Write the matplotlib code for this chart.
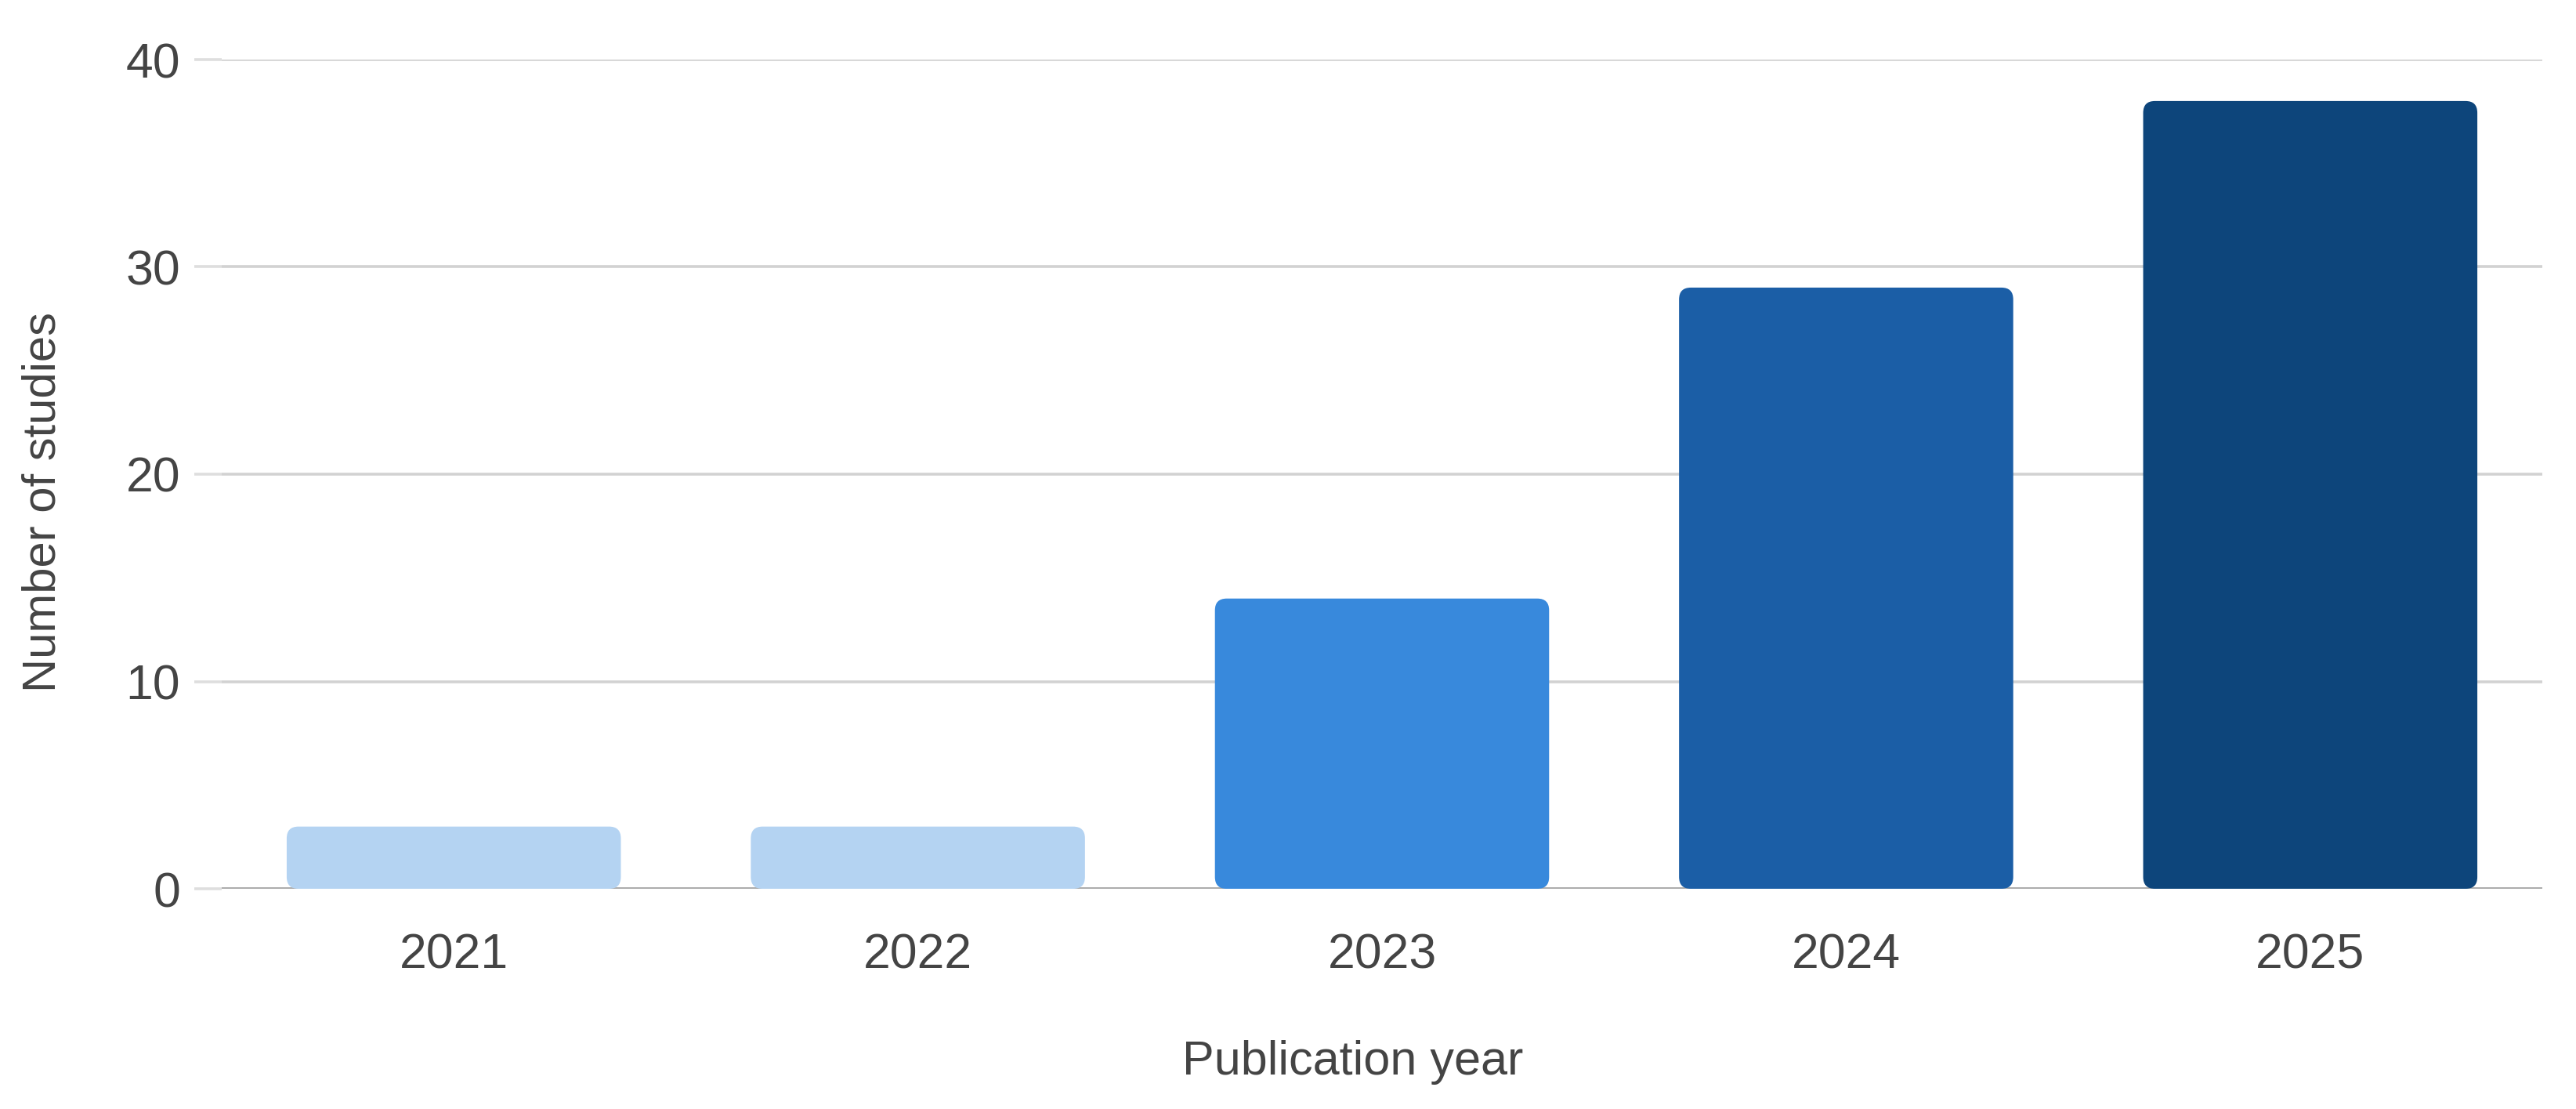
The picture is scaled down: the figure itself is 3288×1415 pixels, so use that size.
import matplotlib
matplotlib.use('Agg')
import matplotlib.pyplot as plt
from matplotlib.patches import FancyBboxPatch

# 数据
years = ['2021', '2022', '2023', '2024', '2025']
studies = [3, 3, 14, 29, 38]
bar_colors = ['#b4d3f2', '#b4d3f2', '#3889dc', '#1b5ea6', '#0d457b']

plt.rcParams['font.family'] = ['Liberation Sans', 'DejaVu Sans']
text_color = '#444444'

W, H, DPI = 3288, 1415, 100
fig = plt.figure(figsize=(W / DPI, H / DPI), dpi=DPI)
ax = fig.add_axes([283 / W, 1 - 1134 / H, (3245 - 283) / W, (1134 - 76) / H])

x = list(range(len(years)))
ax.set_xlim(-0.5, len(years) - 0.5)
ax.set_ylim(0, 40)

# 圆角柱子：先用 bar 定位，再换成 FancyBboxPatch
bars = ax.bar(x, studies, width=0.72, color=bar_colors)
ax_w_px = (3245 - 283)
ax_h_px = (1134 - 76)
px_per_x = ax_w_px / (ax.get_xlim()[1] - ax.get_xlim()[0])
px_per_y = ax_h_px / (ax.get_ylim()[1] - ax.get_ylim()[0])
r_px = 15
r_x = r_px / px_per_x
aspect = px_per_x / px_per_y
for b in bars:
    bx, by = b.get_x(), b.get_y()
    bw, bh = b.get_width(), b.get_height()
    p = FancyBboxPatch((bx, by), bw, bh,
                       boxstyle='round,pad=0,rounding_size=%f' % r_x,
                       mutation_aspect=aspect,
                       facecolor=b.get_facecolor(), edgecolor='none', zorder=3)
    b.remove()
    ax.add_patch(p)

# 网格线
ax.set_yticks([0, 10, 20, 30, 40])
ax.yaxis.grid(True, color='#d2d2d2', linewidth=2.6, zorder=0)
ax.set_axisbelow(True)
ax.axhline(0, color='#a8a8a8', linewidth=2.6, zorder=2)
for s in ax.spines.values():
    s.set_visible(False)

ax.set_xticks(x)
ax.set_xticklabels(years)
ax.tick_params(axis='y', length=25, width=2.6, color='#dedede', pad=13,
               labelsize=45, labelcolor=text_color)
ax.tick_params(axis='x', length=0, pad=40, labelsize=45, labelcolor=text_color)

ax.set_xlabel('Publication year', fontsize=44, color=text_color)
ax.xaxis.set_label_coords(0.4875, -0.182)
ax.set_ylabel('Number of studies', fontsize=43, color=text_color, va='center')
ax.yaxis.set_label_coords(-0.077, 0.466)

fig.savefig('out.png', dpi=DPI, facecolor='white')
